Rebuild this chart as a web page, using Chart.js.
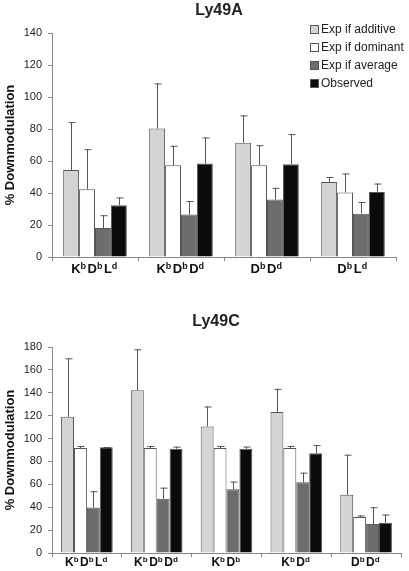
<!DOCTYPE html>
<html>
<head>
<meta charset="utf-8">
<script src="https://cdn.jsdelivr.net/npm/chart.js@4/dist/chart.umd.min.js"></script>
<style>
  body { margin: 0; background: #fff; font-family: 'Liberation Sans', Arial, sans-serif; }
  #wrap { position: relative; width: 409px; height: 571px; overflow: hidden; }
  canvas { position: absolute; left: 0; }
  .title { position: absolute; font-weight: bold; font-size: 16px; line-height: 16px; color: #222; transform: translateX(-50%); white-space: nowrap; }
  #legend { position: absolute; left: 310px; top: 20px; font-size: 12px; color: #222; }
  #legend div { height: 18px; display: flex; align-items: center; white-space: nowrap; }
  #legend span.box { display: inline-block; width: 7px; height: 7px; border: 1px solid #555; margin-right: 2px; }
</style>
</head>
<body>
<div id="wrap">
  <canvas id="chartA" width="409" height="285" style="top:0;width:409px;height:285px"></canvas>
  <canvas id="chartB" width="409" height="281" style="top:290px;width:409px;height:281px"></canvas>
  <div class="title" style="left:219px;top:2px">Ly49A</div>
  <div class="title" style="left:216px;top:313px">Ly49C</div>
  <div id="legend"></div>
</div>
<script>
// series names and colours
const seriesNames = ['Exp if additive', 'Exp if dominant', 'Exp if average', 'Observed'];
const seriesColors = ['#d4d4d4', '#ffffff', '#6d6d6d', '#0b0b0b'];

// Ly49A
const categoriesA = ['KbDbLd', 'KbDbDd', 'DbDd', 'DbLd'];
const additiveA = [54.3, 80.3, 71.4, 46.9];
const dominantA = [42.4, 57.4, 57.4, 40.3];
const averageA = [18.1, 26.5, 35.9, 27.1];
const observedA = [32.4, 58.4, 58, 40.7];
const additiveErrA = [30, 28.2, 17.1, 3.1];
const dominantErrA = [25, 12.1, 12.5, 11.9];
const averageErrA = [8, 8.5, 7.3, 7.3];
const observedErrA = [4.8, 16.3, 18.8, 5.2];

// Ly49C
const categoriesC = ['KbDbLd', 'KbDbDd', 'KbDb', 'KbDd', 'DbDd'];
const additiveC = [119, 142.2, 110.6, 123.3, 50.8];
const dominantC = [91.7, 91.7, 91.7, 91.7, 31.4];
const averageC = [39.7, 47.3, 55.7, 61.8, 25.3];
const observedC = [92.3, 91.1, 91.1, 87.1, 26.4];
const additiveErrC = [51.1, 35.8, 17.4, 20.1, 35.1];
const dominantErrC = [1.8, 1.8, 1.8, 1.8, 1.4];
const averageErrC = [14.3, 9.8, 6.7, 8.4, 14.7];
const observedErrC = [0.3, 1.8, 1.9, 7.2, 7.2];

const yTicksA = [0, 140, 20];   // min, max, step
const yTicksC = [0, 180, 20];

const FONT = "'Liberation Sans', Arial, sans-serif";

// legend
const legend = document.getElementById('legend');
seriesNames.forEach((name, i) => {
  const row = document.createElement('div');
  const box = document.createElement('span');
  box.className = 'box';
  box.style.background = seriesColors[i];
  row.appendChild(box);
  row.appendChild(document.createTextNode(name));
  legend.appendChild(row);
});

// error bars, upward only
const errorBars = {
  id: 'errorBars',
  afterDatasetsDraw(chart) {
    const ctx = chart.ctx;
    const y = chart.scales.y;
    ctx.save();
    ctx.strokeStyle = '#555';
    ctx.lineWidth = 1;
    chart.data.datasets.forEach((ds, di) => {
      chart.getDatasetMeta(di).data.forEach((bar, i) => {
        const top = y.getPixelForValue(ds.data[i] + ds.errors[i]);
        const x = Math.round(bar.x) + 0.5;
        ctx.beginPath();
        ctx.moveTo(x, bar.y);
        ctx.lineTo(x, top);
        ctx.moveTo(x - 3, top + 0.5);
        ctx.lineTo(x + 4, top + 0.5);
        ctx.stroke();
      });
    });
    ctx.restore();
  }
};

// category labels with superscripts (capital = base, small = superscript)
const supLabels = {
  id: 'supLabels',
  afterDraw(chart, args, opts) {
    const ctx = chart.ctx;
    const xs = chart.scales.x;
    const baseFont = 'bold ' + opts.size + 'px ' + FONT;
    const supFont = 'bold ' + opts.supSize + 'px ' + FONT;
    ctx.save();
    ctx.fillStyle = '#111';
    ctx.textBaseline = 'alphabetic';
    chart.data.labels.forEach((lab, i) => {
      const parts = [];
      for (const ch of lab) {
        const sup = ch === ch.toLowerCase();
        ctx.font = sup ? supFont : baseFont;
        parts.push({ ch, sup, w: ctx.measureText(ch).width + (sup ? 1.5 : 0) });
      }
      const total = parts.reduce((s, p) => s + p.w, 0);
      let x = xs.getPixelForTick(i) - total / 2;
      const yb = xs.top + opts.offset;
      parts.forEach(p => {
        ctx.font = p.sup ? supFont : baseFont;
        ctx.fillText(p.ch, x, p.sup ? yb - opts.raise : yb);
        x += p.w;
      });
    });
    ctx.restore();
  }
};

function makeChart(id, labels, values, errors, yTicks, layout) {
  const datasets = values.map((v, i) => ({
    label: seriesNames[i],
    data: v,
    errors: errors[i],
    backgroundColor: seriesColors[i],
    borderColor: '#555',
    borderWidth: 1,
    categoryPercentage: 0.74,
    barPercentage: 1.0
  }));
  return new Chart(document.getElementById(id), {
    type: 'bar',
    data: { labels, datasets },
    plugins: [errorBars, supLabels],
    options: {
      responsive: false,
      animation: false,
      layout: { padding: { top: layout.top, right: layout.right, left: 0, bottom: 0 } },
      plugins: {
        legend: { display: false },
        tooltip: { enabled: false },
        supLabels: layout.labels
      },
      scales: {
        x: {
          grid: { drawOnChartArea: false, offset: true, tickLength: 4, color: '#888' },
          border: { color: '#888' },
          ticks: { display: false },
          afterFit(s) { s.height = layout.xHeight; }
        },
        y: {
          min: yTicks[0], max: yTicks[1],
          grid: { drawOnChartArea: false, tickLength: 4, color: '#888' },
          border: { color: '#888' },
          ticks: { stepSize: yTicks[2], padding: 6, color: '#222', font: { family: FONT, size: 11 } },
          title: {
            display: true, text: '% Downmodulation', color: '#111',
            font: { family: FONT, size: 13, weight: 'bold' },
            padding: { top: 3, bottom: 0 }
          },
          afterFit(s) { s.width = 52; }
        }
      }
    }
  });
}

makeChart('chartA', categoriesA,
  [additiveA, dominantA, averageA, observedA],
  [additiveErrA, dominantErrA, averageErrA, observedErrA],
  yTicksA,
  { top: 33, right: 13, xHeight: 28, labels: { size: 13, supSize: 9, offset: 16, raise: 4 } });

makeChart('chartB', categoriesC,
  [additiveC, dominantC, averageC, observedC],
  [additiveErrC, dominantErrC, averageErrC, observedErrC],
  yTicksC,
  { top: 57, right: 8, xHeight: 18, labels: { size: 12, supSize: 8, offset: 12.5, raise: 3.5 } });
</script>
</body>
</html>
